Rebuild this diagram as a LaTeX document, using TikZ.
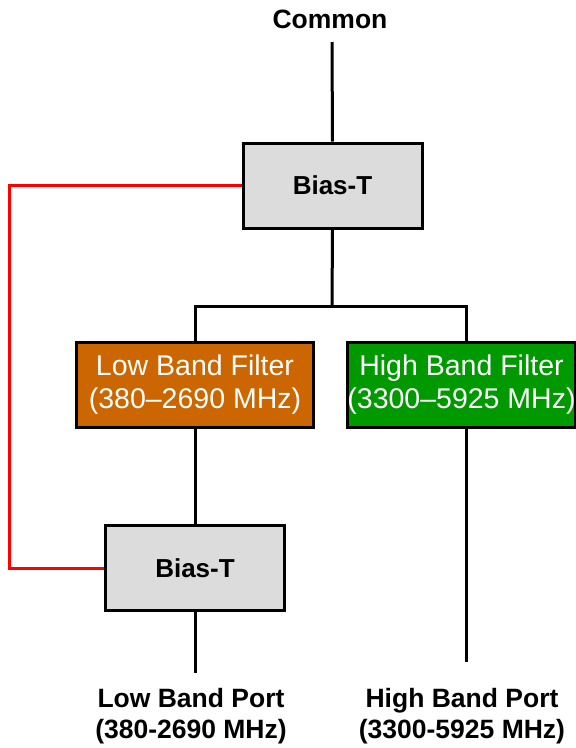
\documentclass[tikz,border=0pt]{standalone}
\usepackage{fontspec}
\setmainfont{Liberation Sans}
\usepackage{xcolor}
\definecolor{biasgray}{HTML}{DCDCDC}
\definecolor{lowband}{HTML}{CC6600}
\definecolor{highband}{HTML}{009900}

\begin{document}
\begin{tikzpicture}[
    x=1pt, y=-1pt,
    wire/.style={line width=3pt, black},
    dcwire/.style={line width=3pt, red},
    biasbox/.style={draw, line width=3pt, fill=biasgray, minimum width=179pt, minimum height=85pt, inner sep=0pt,
        font=\fontsize{26}{31}\selectfont\bfseries},
    filterbox/.style={draw, line width=3pt, minimum height=85pt, inner sep=0pt, text=white, align=center,
        font=\fontsize{28.5}{33}\selectfont},
    port_label/.style={align=center, font=\fontsize{26.5}{31}\selectfont\bfseries}
]
\useasboundingbox (0,0) rectangle (576,748);

% Define coordinates
\coordinate (ctop) at (332,42);
\coordinate (busM) at (332,306);
\coordinate (busR) at (466,306);
\coordinate (rail) at (9,376);
\coordinate (lowend) at (195,673);
\coordinate (highend) at (466,662);

% Blocks
\node[port_label] (common) at (330,19) {Common};
\node[biasbox] (biastop) at (332.5,185.5) {Bias-T};
\node[filterbox, fill=lowband, minimum width=237pt] (lowfilt) at (195,384.5) {Low Band Filter\\(380–2690 MHz)};
\node[filterbox, fill=highband, minimum width=227pt] (highfilt) at (461.5,384.5) {High Band Filter\\(3300–5925 MHz)};
\node[biasbox] (biaslow) at (195,568) {Bias-T};

% Port labels
\node[port_label] (lowport) at (191,716) {Low Band Port\\(380-2690 MHz)};
\node[port_label] (highport) at (462,716) {High Band Port\\(3300-5925 MHz)};

% Draw signal path
\draw[wire] (ctop) -- (biastop.north);
\draw[wire] (biastop.south) -- (busM);
\draw[wire] (lowfilt.north) |- (busR) -- (highfilt.north -| busR);
\draw[wire] (lowfilt.south) -- (biaslow.north);
\draw[wire] (biaslow.south) -- (lowend);
\draw[wire] (highfilt.south -| busR) -- (highend);

% DC feed between the two Bias-Ts
\draw[dcwire] (biastop.west) -| (rail) |- (biaslow.west);

\end{tikzpicture}
\end{document}
